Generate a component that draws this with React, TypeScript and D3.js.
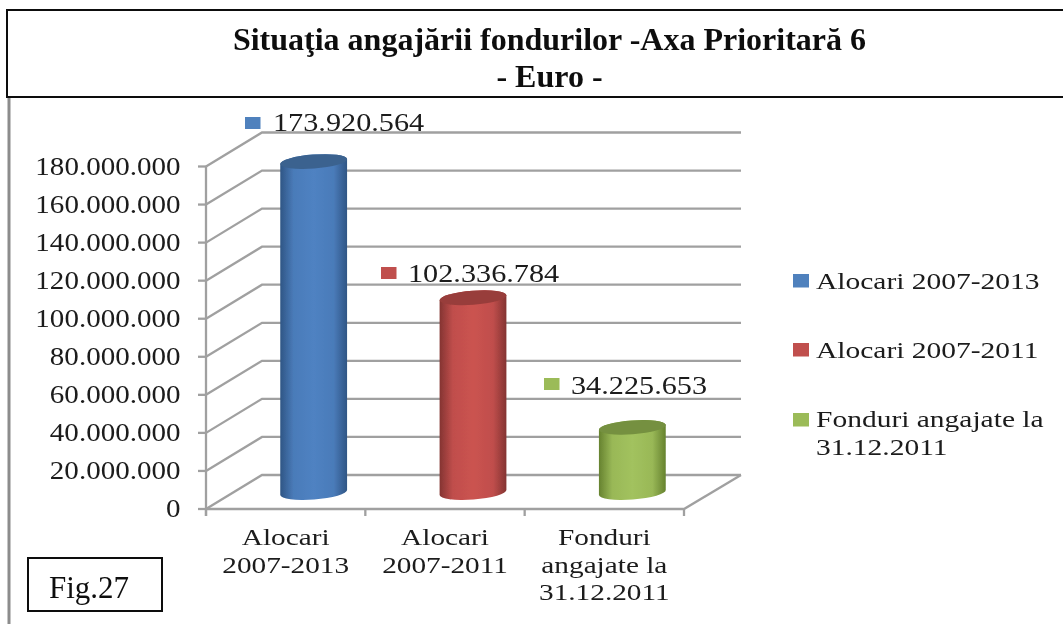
import React from "react";
import * as d3 from "d3";

const categories = ["Alocari 2007-2013", "Alocari 2007-2011", "Fonduri angajate la 31.12.2011"];
const values = [173920564, 102336784, 34225653];
const valueLabels = ["173.920.564", "102.336.784", "34.225.653"];
const axisLabelLines = [["Alocari", "2007-2013"], ["Alocari", "2007-2011"], ["Fonduri", "angajate la", "31.12.2011"]];
const legendLines = [["Alocari 2007-2013"], ["Alocari 2007-2011"], ["Fonduri angajate la", "31.12.2011"]];
const ticks = d3.range(0, 180000001, 20000000);
const tickLabel = (v: number) => (v === 0 ? "0" : d3.format(",")(v).replace(/,/g, "."));
const colors = [
  { edge: "#2f5685", mid: "#4f82c2", top: "#3b628f", flat: "#4f81bd" },
  { edge: "#843432", mid: "#cb5350", top: "#983d3a", flat: "#c0504d" },
  { edge: "#66822f", mid: "#a2c25e", top: "#74903f", flat: "#9bbb59" },
];

const FONT = "'Liberation Serif', 'Times New Roman', serif";
const GRID = "#a0a0a0";
const x = d3.scaleBand<string>().domain(categories).range([206, 684]);
const y = d3.scaleLinear().domain([0, 180000000]).range([509, 166.5]);
const DX = 56, DY = -34;
const RX = 33.5, RY = 7, ROT = -4.3;
const rad = (ROT * Math.PI) / 180;
const ex = RX * Math.cos(rad), ey = RX * Math.sin(rad);

function T({ x: tx, y: ty, s = 1.2, size = 24, anchor = "start", children, weight = "normal", fill = "#1a1a1a" }: any) {
  return (
    <text transform={`translate(${tx},${ty}) scale(${s},1)`} fontSize={size} fontFamily={FONT} textAnchor={anchor} fontWeight={weight} fill={fill}>
      {children}
    </text>
  );
}

export default function App() {
  const cx = (c: string) => x(c)! + x.bandwidth() / 2;
  const labelPos = [
    { sq: 245, tx: 273, y: 131, sy: 117 },
    { sq: 381, tx: 408, y: 282, sy: 267 },
    { sq: 544, tx: 571, y: 394, sy: 378 },
  ];
  const legendY = [289, 358, 427];
  const legendSq = [274, 343, 413];
  return (
    <svg width={1063} height={624} style={{ position: "absolute", left: 0, top: 0, background: "#fff" }}>
      <defs>
        <filter id="soft" x="-5%" y="-5%" width="110%" height="110%">
          <feGaussianBlur stdDeviation="0.45" />
        </filter>
        {colors.map((c, i) => {
          const near = d3.interpolateRgb(c.edge, c.mid)(0.85);
          return (
            <linearGradient key={i} id={`cyl${i}`} x1="0" x2="1" y1="0" y2="0">
              <stop offset="0" stopColor={c.edge} />
              <stop offset="0.2" stopColor={near} />
              <stop offset="0.5" stopColor={c.mid} />
              <stop offset="0.8" stopColor={near} />
              <stop offset="1" stopColor={c.edge} />
            </linearGradient>
          );
        })}
      </defs>
      <g filter="url(#soft)">
        {/* side wall + back wall grid */}
        {ticks.map((t) => (
          <g key={t} stroke={GRID} strokeWidth={2.3} fill="none">
            <path d={`M206,${y(t)}L${206 + DX},${y(t) + DY}L741,${y(t) + DY}`} />
            <line x1={198} x2={206} y1={y(t)} y2={y(t)} />
          </g>
        ))}
        {/* axes and floor */}
        <g stroke={GRID} strokeWidth={2.3} fill="none">
          <line x1={206} x2={206} y1={y(180000000)} y2={516} />
          <path d={`M206,${y(0)}L684,${y(0)}L741,${y(0) + DY}`} />
          {[...categories.map((c) => x(c)!), 684].map((tx) => (
            <line key={tx} x1={tx} x2={tx} y1={y(0)} y2={516} />
          ))}
        </g>
        {/* cylinders */}
        {categories.map((c, i) => {
          const mx = cx(c) + DX / 2;
          const yb = y(0) - 16.5;
          const yt = y(values[i]) - 16.5;
          return (
            <g key={c}>
              <path
                d={`M${mx - ex},${yt - ey}L${mx - ex},${yb - ey}A${RX},${RY} ${ROT} 0 0 ${mx + ex},${yb + ey}L${mx + ex},${yt + ey}A${RX},${RY} ${ROT} 0 0 ${mx - ex},${yt - ey}Z`}
                fill={`url(#cyl${i})`}
              />
              <ellipse cx={mx} cy={yt} rx={RX} ry={RY} transform={`rotate(${ROT} ${mx} ${yt})`} fill={colors[i].top} />
            </g>
          );
        })}
        {/* y tick labels */}
        {ticks.map((t) => (
          <T key={t} x={180.5} y={y(t) + 8} anchor="end" size={24.5} s={1.185}>{tickLabel(t)}</T>
        ))}
        {/* data labels */}
        {categories.map((c, i) => (
          <g key={c}>
            <rect x={labelPos[i].sq} y={labelPos[i].sy} width={15.5} height={12} fill={colors[i].flat} />
            <T x={labelPos[i].tx} y={labelPos[i].y} size={25} s={1.21}>{valueLabels[i]}</T>
          </g>
        ))}
        {/* category labels */}
        {categories.map((c, i) =>
          axisLabelLines[i].map((l, j) => (
            <T key={l} x={cx(c)} y={545 + j * 27.5} anchor="middle" s={1.22} size={24}>{l}</T>
          ))
        )}
        {/* legend */}
        {categories.map((c, i) => (
          <g key={c}>
            <rect x={793} y={legendSq[i]} width={16} height={13.5} fill={colors[i].flat} />
            {legendLines[i].map((l, j) => (
              <T key={l} x={816} y={legendY[i] + j * 28} s={1.25} size={23.6}>{l}</T>
            ))}
          </g>
        ))}
        {/* frame */}
        <line x1={9} x2={9} y1={97} y2={624} stroke="#8c8c8c" strokeWidth={3} />
        <rect x={7} y={10} width={1070} height={87} fill="#fff" stroke="#111" strokeWidth={2} />
        <text x={549.5} y={50} fontFamily={FONT} fontWeight="bold" fontSize={32} textAnchor="middle" fill="#111">Situaţia angajării fondurilor -Axa Prioritară 6</text>
        <text x={549.5} y={87} fontFamily={FONT} fontWeight="bold" fontSize={32} textAnchor="middle" fill="#111">- Euro -</text>
        <rect x={28} y={558} width={134} height={53} fill="#fff" stroke="#111" strokeWidth={2} />
        <text x={49} y={598} fontFamily={FONT} fontSize={31} fill="#111">Fig.27</text>
      </g>
    </svg>
  );
}
